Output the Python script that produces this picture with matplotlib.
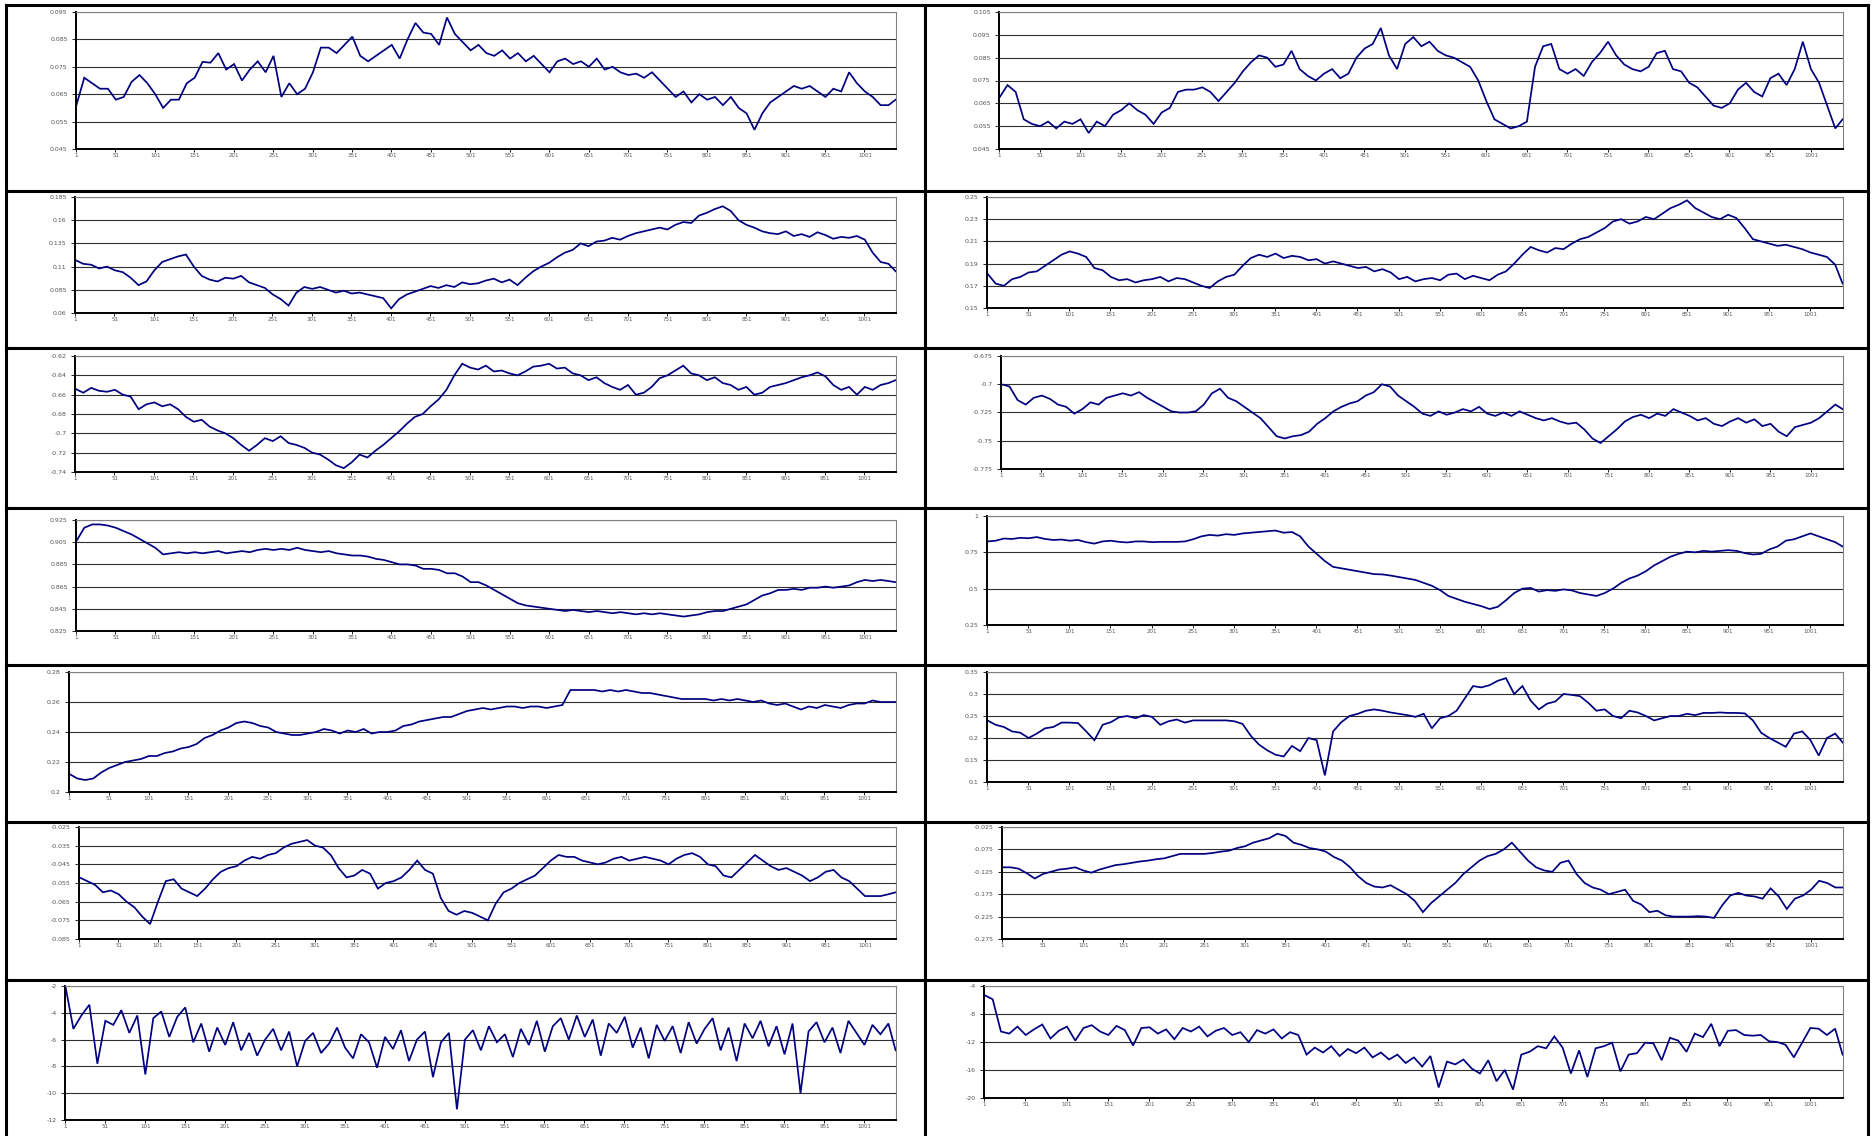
import numpy as np
import matplotlib
matplotlib.use("Agg")
import matplotlib.pyplot as plt
from matplotlib.lines import Line2D

W, H = 1873, 1136

obs = np.r_[np.arange(1, 1032, 10), 1040]
n_obs = 1040
x_labels = list(range(1, 1002, 50))

# ---- left column ----
l1_vals = [0.061, 0.071, 0.069, 0.067, 0.067, 0.063, 0.064, 0.0695, 0.072, 0.069,
           0.065, 0.060, 0.063, 0.063, 0.069, 0.071, 0.0768, 0.0765, 0.080, 0.074,
           0.076, 0.070, 0.074, 0.077, 0.073, 0.079, 0.064, 0.069, 0.065, 0.067,
           0.073, 0.082, 0.082, 0.080, 0.083, 0.086, 0.079, 0.077, 0.079, 0.081,
           0.083, 0.078, 0.085, 0.091, 0.0875, 0.087, 0.083, 0.093, 0.087, 0.084,
           0.081, 0.083, 0.080, 0.079, 0.081, 0.078, 0.080, 0.077, 0.079, 0.076,
           0.073, 0.077, 0.078, 0.076, 0.077, 0.075, 0.078, 0.074, 0.075, 0.073,
           0.072, 0.0725, 0.071, 0.073, 0.070, 0.067, 0.064, 0.066, 0.062, 0.065,
           0.063, 0.064, 0.061, 0.064, 0.060, 0.058, 0.052, 0.058, 0.062, 0.064,
           0.066, 0.068, 0.067, 0.068, 0.066, 0.064, 0.067, 0.066, 0.073, 0.069,
           0.066, 0.064, 0.061, 0.061,
           0.063]
l1_ticks = [0.045, 0.055, 0.065, 0.075, 0.085, 0.095]

l2_vals = [0.117, 0.113, 0.112, 0.108, 0.110, 0.106, 0.104, 0.098, 0.090, 0.094,
           0.106, 0.115, 0.118, 0.121, 0.123, 0.110, 0.100, 0.096, 0.094, 0.098,
           0.097, 0.100, 0.093, 0.090, 0.087, 0.080, 0.075, 0.068, 0.082, 0.088,
           0.086, 0.088, 0.085, 0.082, 0.084, 0.081, 0.082, 0.080, 0.078, 0.076,
           0.065, 0.075, 0.080, 0.083, 0.086, 0.089, 0.087, 0.090, 0.088, 0.093,
           0.091, 0.092, 0.095, 0.097, 0.093, 0.096, 0.090, 0.098, 0.105, 0.110,
           0.114, 0.120, 0.125, 0.128, 0.135, 0.132, 0.137, 0.138, 0.141, 0.139,
           0.143, 0.146, 0.148, 0.150, 0.152, 0.150, 0.155, 0.158, 0.157, 0.165,
           0.168, 0.172, 0.175, 0.170, 0.160, 0.155, 0.152, 0.148, 0.146, 0.145,
           0.148, 0.143, 0.145, 0.142, 0.147, 0.144, 0.140, 0.142, 0.141, 0.143,
           0.139, 0.125, 0.115, 0.113,
           0.105]
l2_ticks = [0.06, 0.085, 0.11, 0.135, 0.16, 0.185]

l3_vals = [-0.654, -0.658, -0.653, -0.656, -0.657, -0.655, -0.660, -0.662, -0.675, -0.670,
           -0.668, -0.672, -0.670, -0.675, -0.683, -0.688, -0.686, -0.693, -0.697, -0.700,
           -0.705, -0.712, -0.718, -0.712, -0.705, -0.708, -0.703, -0.710, -0.712, -0.715,
           -0.720, -0.722, -0.727, -0.733, -0.736, -0.730, -0.722, -0.725, -0.718, -0.712,
           -0.705, -0.698, -0.690, -0.683, -0.680, -0.672, -0.665, -0.655, -0.640, -0.628,
           -0.632, -0.634, -0.630, -0.636, -0.635, -0.638, -0.640, -0.636, -0.631, -0.630,
           -0.628, -0.633, -0.632, -0.638, -0.640, -0.645, -0.642, -0.648, -0.652, -0.655,
           -0.650, -0.660, -0.658, -0.652, -0.643, -0.640, -0.635, -0.630, -0.638, -0.640,
           -0.645, -0.642, -0.648, -0.650, -0.655, -0.652, -0.660, -0.658, -0.652, -0.650,
           -0.648, -0.645, -0.642, -0.640, -0.637, -0.641, -0.650, -0.655, -0.652, -0.660,
           -0.652, -0.655, -0.650, -0.648,
           -0.645]
l3_ticks = [-0.74, -0.72, -0.7, -0.68, -0.66, -0.64, -0.62]

l4_vals = [0.906, 0.918, 0.921, 0.921, 0.920, 0.918, 0.915, 0.912, 0.908, 0.904,
           0.900, 0.894, 0.895, 0.896, 0.895, 0.896, 0.895, 0.896, 0.897, 0.895,
           0.896, 0.897, 0.896, 0.898, 0.899, 0.898, 0.899, 0.898, 0.900, 0.898,
           0.897, 0.896, 0.897, 0.895, 0.894, 0.893, 0.893, 0.892, 0.890, 0.889,
           0.887, 0.885, 0.885, 0.884, 0.881, 0.881, 0.880, 0.877, 0.877, 0.874,
           0.869, 0.869, 0.866, 0.862, 0.858, 0.854, 0.850, 0.848, 0.847, 0.846,
           0.845, 0.844, 0.843, 0.844, 0.843, 0.842, 0.843, 0.842, 0.841, 0.842,
           0.841, 0.840, 0.841, 0.840, 0.841, 0.840, 0.839, 0.838, 0.839, 0.840,
           0.842, 0.843, 0.843, 0.845, 0.847, 0.849, 0.853, 0.857, 0.859, 0.862,
           0.862, 0.863, 0.862, 0.864, 0.864, 0.865, 0.864, 0.865, 0.866, 0.869,
           0.871, 0.870, 0.871, 0.870,
           0.869]
l4_ticks = [0.825, 0.845, 0.865, 0.885, 0.905, 0.925]

l5_vals = [0.212, 0.209, 0.208, 0.209, 0.213, 0.216, 0.218, 0.220, 0.221, 0.222,
           0.224, 0.224, 0.226, 0.227, 0.229, 0.230, 0.232, 0.236, 0.238, 0.241,
           0.243, 0.246, 0.247, 0.246, 0.244, 0.243, 0.240, 0.239, 0.238, 0.238,
           0.239, 0.240, 0.242, 0.241, 0.239, 0.241, 0.240, 0.242, 0.239, 0.240,
           0.240, 0.241, 0.244, 0.245, 0.247, 0.248, 0.249, 0.250, 0.250, 0.252,
           0.254, 0.255, 0.256, 0.255, 0.256, 0.257, 0.257, 0.256, 0.257, 0.257,
           0.256, 0.257, 0.258, 0.268, 0.268, 0.268, 0.268, 0.267, 0.268, 0.267,
           0.268, 0.267, 0.266, 0.266, 0.265, 0.264, 0.263, 0.262, 0.262, 0.262,
           0.262, 0.261, 0.262, 0.261, 0.262, 0.261, 0.260, 0.261, 0.259, 0.258,
           0.259, 0.257, 0.255, 0.257, 0.256, 0.258, 0.257, 0.256, 0.258, 0.259,
           0.259, 0.261, 0.260, 0.260,
           0.260]
l5_ticks = [0.2, 0.22, 0.24, 0.26, 0.28]

l6_vals = [-0.052, -0.054, -0.056, -0.060, -0.059, -0.061, -0.065, -0.068, -0.073, -0.077,
           -0.065, -0.054, -0.053, -0.058, -0.060, -0.062, -0.058, -0.053, -0.049, -0.047,
           -0.046, -0.043, -0.041, -0.042, -0.040, -0.039, -0.036, -0.034, -0.033, -0.032,
           -0.035, -0.036, -0.040, -0.047, -0.052, -0.051, -0.048, -0.050, -0.058, -0.055,
           -0.054, -0.052, -0.048, -0.043, -0.048, -0.050, -0.063, -0.070, -0.072, -0.070,
           -0.071, -0.073, -0.075, -0.066, -0.060, -0.058, -0.055, -0.053, -0.051, -0.047,
           -0.043, -0.040, -0.041, -0.041, -0.043, -0.044, -0.045, -0.044, -0.042, -0.041,
           -0.043, -0.042, -0.041, -0.042, -0.043, -0.045, -0.042, -0.040, -0.039, -0.041,
           -0.045, -0.046, -0.051, -0.052, -0.048, -0.044, -0.040, -0.043, -0.046, -0.048,
           -0.047, -0.049, -0.051, -0.054, -0.052, -0.049, -0.048, -0.052, -0.054, -0.058,
           -0.062, -0.062, -0.062, -0.061,
           -0.060]
l6_ticks = [-0.085, -0.075, -0.065, -0.055, -0.045, -0.035, -0.025]

l7_vals = [-2.0, -5.2, -4.2, -3.4, -7.8, -4.6, -4.9, -3.8, -5.5, -4.2,
           -8.6, -4.4, -3.9, -5.8, -4.3, -3.6, -6.2, -4.8, -6.9, -5.1,
           -6.4, -4.7, -6.8, -5.5, -7.2, -6.0, -5.2, -6.8, -5.4, -8.0,
           -6.1, -5.5, -7.0, -6.3, -5.1, -6.6, -7.4, -5.6, -6.2, -8.1,
           -5.8, -6.7, -5.3, -7.6, -6.0, -5.4, -8.8, -6.2, -5.5, -11.2,
           -6.0, -5.3, -6.8, -5.0, -6.2, -5.6, -7.3, -5.2, -6.4, -4.6,
           -6.9, -5.0, -4.4, -6.0, -4.2, -5.8, -4.5, -7.2, -4.8, -5.5,
           -4.3, -6.6, -5.1, -7.4, -4.9, -6.1, -5.0, -7.0, -4.7, -6.3,
           -5.2, -4.4, -6.8, -5.1, -7.6, -4.8, -5.9, -4.6, -6.5, -5.0,
           -7.1, -4.8, -10.0, -5.4, -4.7, -6.2, -5.1, -7.0, -4.6, -5.5,
           -6.4, -4.9, -5.6, -4.8,
           -6.8]
l7_ticks = [-12, -10, -8, -6, -4, -2]

# ---- right column ----
r1_vals = [0.0675, 0.073, 0.070, 0.058, 0.056, 0.055, 0.057, 0.054, 0.057, 0.056,
           0.058, 0.052, 0.057, 0.055, 0.060, 0.062, 0.065, 0.062, 0.060, 0.056,
           0.061, 0.063, 0.070, 0.071, 0.071, 0.072, 0.070, 0.066, 0.070, 0.074,
           0.079, 0.083, 0.086, 0.085, 0.081, 0.082, 0.088, 0.080, 0.077, 0.075,
           0.078, 0.080, 0.076, 0.078, 0.085, 0.089, 0.091, 0.098, 0.086, 0.080,
           0.091, 0.094, 0.090, 0.092, 0.088, 0.086, 0.085, 0.083, 0.081, 0.075,
           0.066, 0.058, 0.056, 0.054, 0.055, 0.057, 0.081, 0.090, 0.091, 0.080,
           0.078, 0.080, 0.077, 0.083, 0.087, 0.092, 0.086, 0.082, 0.080, 0.079,
           0.081, 0.087, 0.088, 0.080, 0.079, 0.074, 0.072, 0.068, 0.064, 0.063,
           0.065, 0.071, 0.074, 0.070, 0.068, 0.076, 0.078, 0.073, 0.080, 0.092,
           0.080, 0.074, 0.064, 0.054,
           0.058]
r1_ticks = [0.045, 0.055, 0.065, 0.075, 0.085, 0.095, 0.105]

r2_vals = [0.181, 0.172, 0.170, 0.176, 0.178, 0.182, 0.183, 0.188, 0.193, 0.198,
           0.201, 0.199, 0.196, 0.186, 0.184, 0.178, 0.175, 0.176, 0.173, 0.175,
           0.176, 0.178, 0.174, 0.177, 0.176, 0.173, 0.170, 0.168, 0.174, 0.178,
           0.180, 0.188, 0.195, 0.198, 0.196, 0.199, 0.195, 0.197, 0.196, 0.193,
           0.194, 0.190, 0.192, 0.190, 0.188, 0.186, 0.187, 0.183, 0.185, 0.182,
           0.176, 0.178, 0.174, 0.176, 0.177, 0.175, 0.180, 0.181, 0.176, 0.179,
           0.177, 0.175, 0.180, 0.183, 0.190, 0.198, 0.205, 0.202, 0.200, 0.204,
           0.203, 0.208, 0.212, 0.214, 0.218, 0.222, 0.228, 0.230, 0.226, 0.228,
           0.232, 0.230, 0.235, 0.240, 0.243, 0.247, 0.240, 0.236, 0.232, 0.230,
           0.234, 0.231, 0.222, 0.212, 0.210, 0.208, 0.206, 0.207, 0.205, 0.203,
           0.200, 0.198, 0.196, 0.189,
           0.172]
r2_ticks = [0.15, 0.17, 0.19, 0.21, 0.23, 0.25]

r3_vals = [-0.700, -0.702, -0.714, -0.718, -0.712, -0.710, -0.713, -0.718, -0.720, -0.726,
           -0.722, -0.716, -0.718, -0.712, -0.710, -0.708, -0.710, -0.707, -0.712, -0.716,
           -0.720, -0.724, -0.725, -0.725, -0.724, -0.718, -0.708, -0.704, -0.712, -0.715,
           -0.720, -0.725, -0.730, -0.738, -0.746, -0.748, -0.746, -0.745, -0.742, -0.735,
           -0.730, -0.724, -0.720, -0.717, -0.715, -0.710, -0.707, -0.700, -0.702, -0.710,
           -0.715, -0.720, -0.726, -0.728, -0.724, -0.727, -0.725, -0.722, -0.724, -0.720,
           -0.726, -0.728, -0.725, -0.728, -0.724, -0.727, -0.730, -0.732, -0.730, -0.733,
           -0.735, -0.734, -0.740, -0.748, -0.752, -0.746, -0.740, -0.733, -0.729, -0.727,
           -0.730, -0.726, -0.728, -0.722, -0.725, -0.728, -0.732, -0.730, -0.735, -0.737,
           -0.733, -0.730, -0.734, -0.731, -0.737, -0.735, -0.742, -0.746, -0.738, -0.736,
           -0.734, -0.730, -0.724, -0.718,
           -0.722]
r3_ticks = [-0.775, -0.75, -0.725, -0.7, -0.675]

r4_vals = [0.825, 0.830, 0.845, 0.842, 0.850, 0.847, 0.855, 0.842, 0.835, 0.838,
           0.830, 0.835, 0.820, 0.810, 0.825, 0.830, 0.822, 0.818, 0.825, 0.825,
           0.820, 0.822, 0.822, 0.822, 0.825, 0.840, 0.860, 0.870, 0.865, 0.875,
           0.870, 0.880, 0.885, 0.890, 0.895, 0.900, 0.885, 0.890, 0.860, 0.790,
           0.740, 0.690, 0.650, 0.640, 0.630, 0.620, 0.610, 0.600, 0.598, 0.590,
           0.580, 0.570, 0.560, 0.540, 0.520, 0.490, 0.450, 0.430, 0.410, 0.395,
           0.380, 0.360, 0.375, 0.420, 0.470, 0.500, 0.505, 0.480, 0.490, 0.485,
           0.495, 0.488, 0.470, 0.460, 0.450, 0.470, 0.500, 0.540, 0.570, 0.590,
           0.620, 0.660, 0.690, 0.720, 0.740, 0.755, 0.750, 0.760, 0.755, 0.760,
           0.765, 0.760, 0.745, 0.735, 0.740, 0.770, 0.790, 0.830, 0.840, 0.860,
           0.880, 0.860, 0.840, 0.820,
           0.790]
r4_ticks = [0.25, 0.5, 0.75, 1]

r5_vals = [0.240, 0.230, 0.225, 0.215, 0.212, 0.200, 0.210, 0.222, 0.225, 0.235,
           0.235, 0.234, 0.215, 0.195, 0.230, 0.236, 0.247, 0.250, 0.245, 0.252,
           0.248, 0.230, 0.238, 0.242, 0.235, 0.240, 0.240, 0.240, 0.240, 0.240,
           0.238, 0.232, 0.205, 0.185, 0.172, 0.162, 0.158, 0.182, 0.170, 0.200,
           0.195, 0.115, 0.215, 0.236, 0.250, 0.255, 0.262, 0.265, 0.262, 0.258,
           0.255, 0.252, 0.248, 0.255, 0.222, 0.245, 0.250, 0.262, 0.290, 0.318,
           0.315, 0.320, 0.330, 0.336, 0.300, 0.318, 0.285, 0.265, 0.278, 0.283,
           0.300, 0.298, 0.295, 0.280, 0.262, 0.265, 0.250, 0.245, 0.262, 0.258,
           0.250, 0.240, 0.245, 0.250, 0.250, 0.255, 0.252, 0.257, 0.257, 0.258,
           0.257, 0.257, 0.256, 0.240, 0.212, 0.200, 0.190, 0.180, 0.210, 0.215,
           0.195, 0.160, 0.200, 0.210,
           0.190]
r5_ticks = [0.1, 0.15, 0.2, 0.25, 0.3, 0.35]

r6_vals = [-0.115, -0.115, -0.118, -0.128, -0.140, -0.130, -0.125, -0.120, -0.118, -0.115,
           -0.122, -0.127, -0.120, -0.115, -0.110, -0.108, -0.105, -0.102, -0.100, -0.097,
           -0.095, -0.090, -0.085, -0.085, -0.085, -0.085, -0.083, -0.080, -0.078, -0.072,
           -0.068, -0.060, -0.055, -0.050, -0.040, -0.045, -0.060, -0.065, -0.072, -0.075,
           -0.080, -0.092, -0.100, -0.115, -0.135, -0.150, -0.158, -0.160, -0.155, -0.165,
           -0.175, -0.190, -0.215, -0.195, -0.180, -0.165, -0.150, -0.130, -0.115, -0.100,
           -0.090, -0.085, -0.075, -0.060, -0.080, -0.100, -0.115, -0.122, -0.125, -0.105,
           -0.100, -0.130, -0.150, -0.160, -0.165, -0.175, -0.170, -0.165, -0.190, -0.198,
           -0.215, -0.212, -0.222, -0.225, -0.225, -0.225, -0.224, -0.225, -0.228, -0.200,
           -0.178, -0.172, -0.178, -0.180, -0.185, -0.162, -0.180, -0.208, -0.185, -0.178,
           -0.165, -0.145, -0.150, -0.160,
           -0.160]
r6_ticks = [-0.275, -0.225, -0.175, -0.125, -0.075, -0.025]

r7_vals = [-5.3, -5.9, -10.5, -10.8, -9.8, -11.0, -10.2, -9.5, -11.5, -10.4,
           -9.8, -11.8, -10.0, -9.6, -10.5, -11.0, -9.7, -10.3, -12.5, -10.0,
           -9.9, -10.8, -10.2, -11.6, -10.0, -10.5, -9.8, -11.2, -10.4, -10.0,
           -11.0, -10.6, -12.0, -10.3, -10.8, -10.2, -11.5, -10.6, -11.0, -13.8,
           -12.8, -13.5, -12.6, -14.0, -13.0, -13.6, -12.8, -14.2, -13.5, -14.5,
           -13.8, -15.0, -14.2, -15.5, -14.0, -18.5, -14.8, -15.2, -14.5, -15.8,
           -16.5, -14.6, -17.6, -16.0, -18.8, -13.8, -13.4, -12.6, -12.9, -11.2,
           -12.8, -16.5, -13.2, -17.0, -12.9, -12.6, -12.1, -16.2, -13.8, -13.6,
           -12.1, -12.2, -14.6, -11.4, -11.8, -13.4, -10.8, -11.3, -9.4, -12.6,
           -10.4, -10.3, -11.0, -11.1, -11.0, -11.9, -12.0, -12.4, -14.2, -12.1,
           -10.0, -10.1, -11.0, -10.1,
           -13.8]
r7_ticks = [-20, -16, -12, -8, -4]

# plot areas in pixels: left, top, right, bottom
panels = [
    (l1_vals, l1_ticks, (76, 12, 896, 149)),
    (l2_vals, l2_ticks, (75, 197, 896, 313)),
    (l3_vals, l3_ticks, (75, 356, 896, 472)),
    (l4_vals, l4_ticks, (76, 520, 896, 631)),
    (l5_vals, l5_ticks, (69, 672, 896, 792)),
    (l6_vals, l6_ticks, (79, 827, 896, 939)),
    (l7_vals, l7_ticks, (65, 986, 896, 1120)),
    (r1_vals, r1_ticks, (999, 12, 1843, 149)),
    (r2_vals, r2_ticks, (987, 197, 1843, 308)),
    (r3_vals, r3_ticks, (1001, 356, 1843, 469)),
    (r4_vals, r4_ticks, (987, 516, 1843, 625)),
    (r5_vals, r5_ticks, (987, 672, 1843, 782)),
    (r6_vals, r6_ticks, (1002, 827, 1843, 939)),
    (r7_vals, r7_ticks, (984, 986, 1843, 1098)),
]

fig = plt.figure(figsize=(W / 100, H / 100), dpi=100)
fig.patch.set_facecolor("white")

for vals, ticks, (x0, y0, x1, y1) in panels:
    assert len(vals) == len(obs)
    ax = fig.add_axes([x0 / W, 1 - y1 / H, (x1 - x0) / W, (y1 - y0) / H])
    ax.plot(obs, vals, color="#000080", lw=1.25, solid_joinstyle="miter")
    ax.set_xlim(0.5, n_obs + 0.5)
    ax.set_ylim(ticks[0], ticks[-1])
    ax.set_yticks(ticks)
    ax.set_yticklabels(["%g" % t for t in ticks])
    ax.set_xticks(x_labels)
    ax.set_xticklabels([str(v) for v in x_labels])
    ax.set_xticks(np.arange(0.5, n_obs, 50), minor=True)
    ax.tick_params(axis="x", which="major", length=0, labelsize=4, colors="#555555", pad=3)
    ax.tick_params(axis="x", which="minor", length=2.5, width=0.6, color="black", direction="out")
    ax.tick_params(axis="y", length=3, width=0.6, labelsize=4.5, colors="#555555", pad=3)
    ax.tick_params(axis="y", color="black")
    ax.yaxis.grid(True, color="#303030", lw=0.8)
    ax.set_axisbelow(True)
    for side in ("left", "bottom"):
        ax.spines[side].set_color("black")
        ax.spines[side].set_linewidth(1.4)
    for side in ("top", "right"):
        ax.spines[side].set_color("#808080")
        ax.spines[side].set_linewidth(0.8)

# table-like cell borders
border_rows = [5, 191, 348, 508, 665, 822, 980]
for y in border_rows:
    fig.add_artist(Line2D([6 / W, 1868 / W], [1 - y / H, 1 - y / H],
                          transform=fig.transFigure, color="black", lw=2.2))
for x in (6, 925, 1868):
    fig.add_artist(Line2D([x / W, x / W], [1 - 5 / H, 0],
                          transform=fig.transFigure, color="black", lw=2.2))

fig.savefig("out.png", dpi=100, facecolor="white")
